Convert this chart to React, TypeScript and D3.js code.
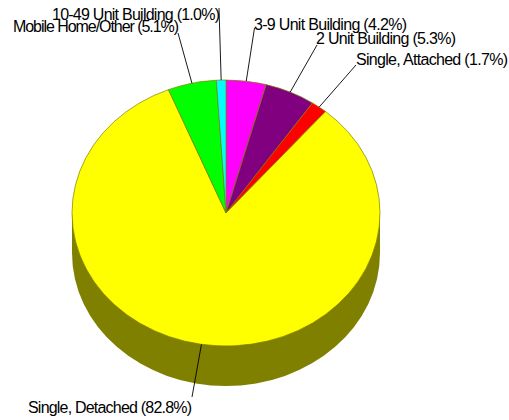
import React from "react";
import * as d3 from "d3";

const categories = ["3-9 Unit Building", "2 Unit Building", "Single, Attached", "Single, Detached", "Mobile Home/Other", "10-49 Unit Building"];
const shares = [4.2, 5.3, 1.7, 82.8, 5.1, 1.0];
const colors = ["#ff00ff", "#800080", "#ff0000", "#ffff00", "#00ff00", "#00ffff"];
const labelX = [254, 316, 356, 28, 13, 52];
const labelY = [30, 44, 65, 413, 32, 20];
const labelWidth = [153, 140, 152, 164, 166, 168];
const leaderEnd: [number, number][] = [[254.5, 28], [317, 45], [356, 65], [192, 397], [178, 33], [219, 8]];

const W = 509, H = 420, cx = 226, cy = 213, rx = 154, ry = 133, depth = 40;
const EDGE = "#808000";

export default function App() {
  const pie = d3.pie<number>().sort(null).value(d => d);
  const slices = pie(shares);
  const arc = d3.arc<d3.PieArcDatum<number>>().innerRadius(0).outerRadius(rx);
  const mid = (s: d3.PieArcDatum<number>) => (s.startAngle + s.endAngle) / 2;
  const sy = ry / rx;
  return (
    <svg width={W} height={H} viewBox={`0 0 ${W} ${H}`} style={{ position: "absolute", left: 0, top: 0, background: "#fff" }}>
      <g fill="#808000">
        <ellipse cx={cx} cy={cy + depth} rx={rx} ry={ry} />
        <rect x={cx - rx} y={cy} width={rx * 2} height={depth} />
      </g>
      <g transform={`translate(${cx},${cy}) scale(1,${sy})`}>
        {slices.map((s, i) => (
          <path key={i} d={arc(s) || ""} fill={colors[i]} stroke={EDGE} strokeWidth={0.7} vectorEffect="non-scaling-stroke" />
        ))}
      </g>
      {slices.map((s, i) => {
        const a = mid(s);
        const x = cx + rx * Math.sin(a);
        const y = cy - ry * Math.cos(a);
        return <line key={i} x1={x} y1={y} x2={leaderEnd[i][0]} y2={leaderEnd[i][1]} stroke="#000" strokeWidth={0.9} />;
      })}
      {slices.map((s, i) => (
        <text key={i} x={labelX[i]} y={labelY[i]} textLength={labelWidth[i]} lengthAdjust="spacing"
          fontFamily="'Liberation Sans', Arial, sans-serif" fontSize={16} fill="#000">
          {`${categories[i]} (${shares[i].toFixed(1)}%)`}
        </text>
      ))}
    </svg>
  );
}
